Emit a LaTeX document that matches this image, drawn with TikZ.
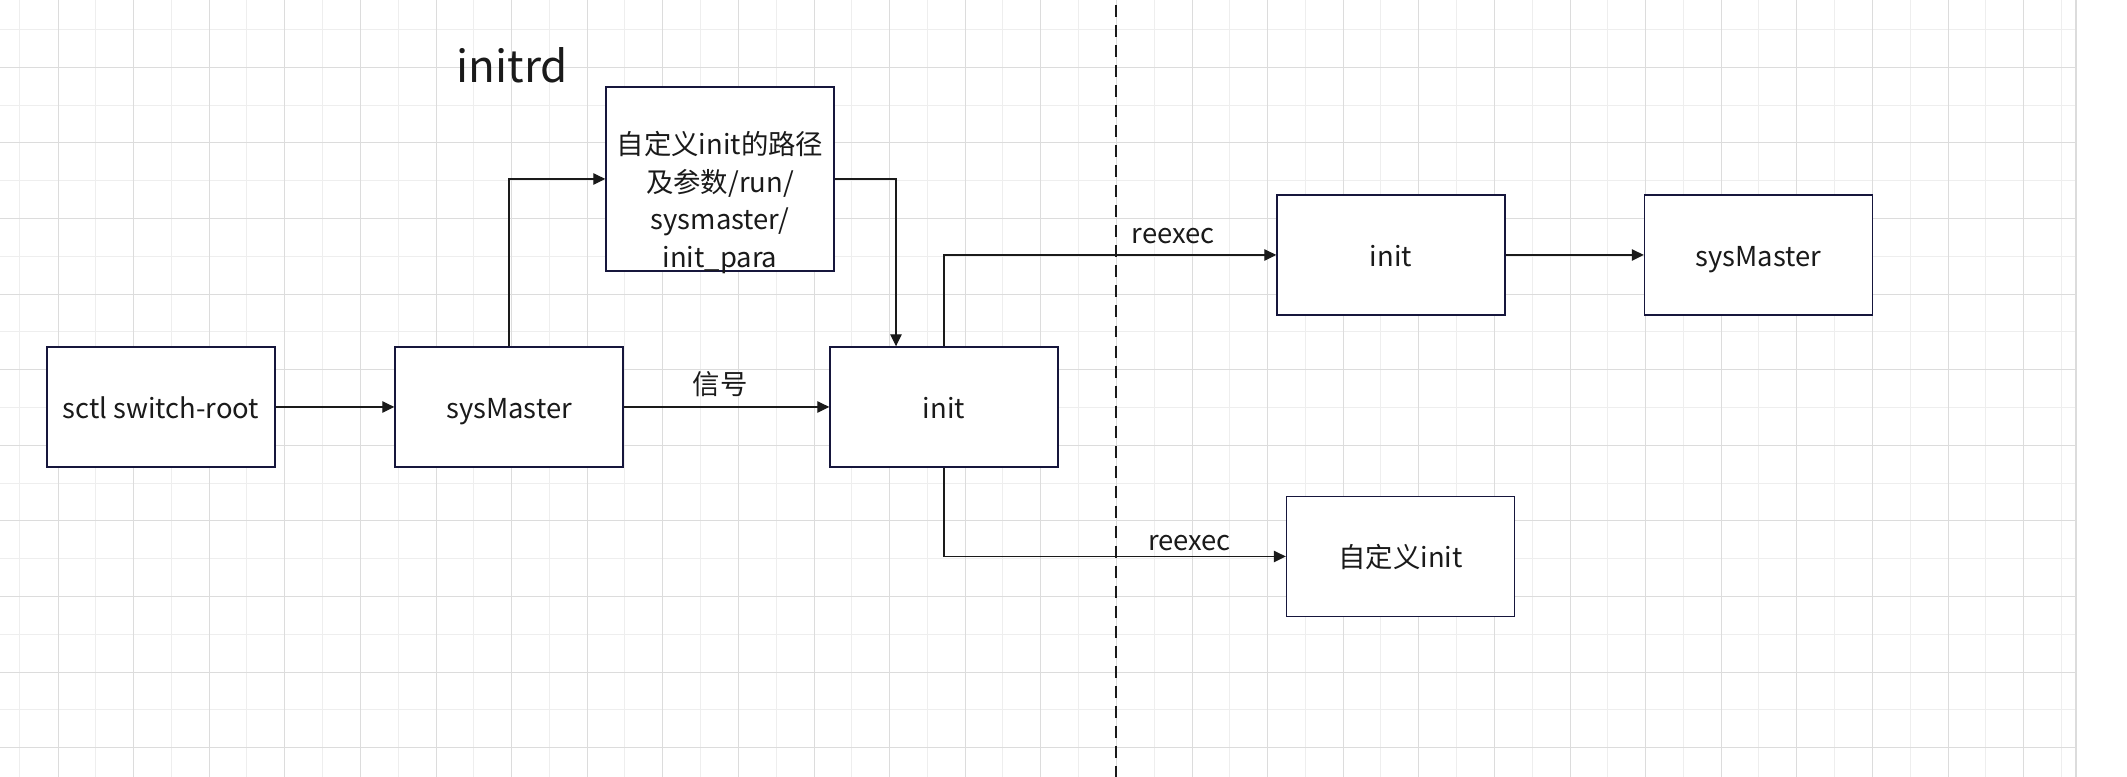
\documentclass[tikz,border=0pt]{standalone}
\usepackage{fontspec}
\setmainfont{Noto Sans CJK SC}
\usetikzlibrary{arrows.meta, positioning}
\definecolor{gridmajor}{RGB}{220, 220, 220}
\definecolor{gridminor}{RGB}{238, 238, 238}
\definecolor{boxnavy}{RGB}{22, 22, 60}
\definecolor{inkblack}{RGB}{26, 26, 26}
\newcommand{\boxfont}{\fontsize{7.8}{10.7}\selectfont}

\begin{document}
\begin{tikzpicture}[
  procbox/.style={draw=boxnavy, line width=0.4pt, fill=white, minimum width=2.28cm, minimum height=1.2cm, inner sep=0pt, font=\boxfont, text=inkblack, align=center, text height=7pt, text depth=0.6pt},
  flow/.style={-{Triangle[length=1.2mm, width=1.15mm]}, line width=0.35pt, inkblack},
  flowlabel/.style={font=\boxfont, text=inkblack, inner sep=0pt, anchor=base}
]
  \useasboundingbox (0,0) rectangle (21.27,7.77);
  \fill[white] (0,0) rectangle (21.27,7.77);

  % Background grid
  \foreach \i in {0,...,27}
    \draw[gridminor, line width=0.2845pt] ({0.20+0.756*\i},0) -- ++(0,7.77);
  \foreach \k in {0,...,9}
    \draw[gridminor, line width=0.2845pt] (0,{7.475-0.756*\k}) -- (20.76,{7.475-0.756*\k});
  \foreach \i in {0,...,26}
    \draw[gridmajor, line width=0.2845pt] ({0.58+0.756*\i},0) -- ++(0,7.77);
  \foreach \k in {0,...,9}
    \draw[gridmajor, line width=0.2845pt] (0,{7.097-0.756*\k}) -- (20.76,{7.097-0.756*\k});
  \draw[gridmajor, line width=0.4pt] (20.76,0) -- (20.76,7.77);

  % Divider
  \draw[inkblack, line width=0.35pt, dash pattern=on 3.4pt off 2.3pt] (11.16,7.72) -- (11.16,0);

  % Title
  \node[font=\fontsize{12.5}{15}\selectfont, text=inkblack, anchor=base west, inner sep=0pt] (initrd) at (4.56,6.94) {initrd};

  % Boxes
  \node[procbox] (switchroot) at (1.61,3.70) {sctl switch-root};
  \node[procbox] (sysmaster) at (5.09,3.70) {sysMaster};
  \node[procbox] (oldinit) at (9.44,3.70) {init};
  \node[procbox, minimum height=1.84cm] (initpara) at (7.20,5.98) {};
  \node[font=\boxfont, text=inkblack, align=center, inner sep=0pt] (initparatext) at ([yshift=-0.235cm]initpara.center) {自定义init的路径\\及参数/run/\\sysmaster/\\init\_para};
  \node[procbox] (newinit) at (13.91,5.22) {init};
  \node[procbox] (newsysmaster) at (17.585,5.22) {sysMaster};
  \node[procbox] (custominit) at (14.005,2.205) {自定义init};

  % Connectors
  \draw[flow] (switchroot) -- (sysmaster);
  \draw[flow] (sysmaster) -- node[flowlabel, pos=0.47, yshift=0.12cm] {信号} (oldinit);
  \draw[flow] (sysmaster.north) |- (initpara.west);
  \draw[flow] (initpara.east) -| ([xshift=-0.48cm]oldinit.north);
  \draw[flow] (oldinit.north) |- node[flowlabel, pos=0.845, yshift=0.115cm] {reexec} (newinit.west);
  \draw[flow] (oldinit.south) |- node[flowlabel, pos=0.859, yshift=0.055cm] {reexec} (custominit.west);
  \draw[flow] (newinit) -- (newsysmaster);
\end{tikzpicture}
\end{document}
